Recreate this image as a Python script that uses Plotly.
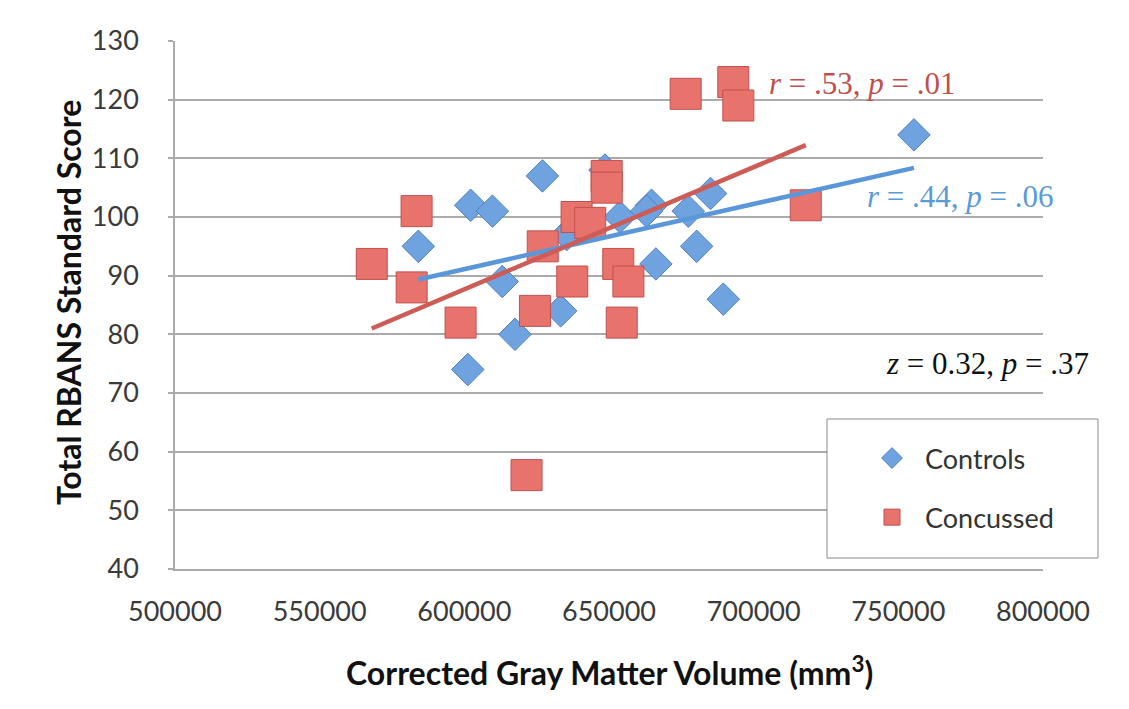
import numpy as np
import plotly.graph_objects as go

# ---- data ----
controls_x = [627000, 648600, 602200, 609700, 584100, 613100, 617500, 601200, 633300,
              653800, 664700, 663000, 677400, 685100, 680300, 666200, 689500, 755400, 635400]
controls_y = [107, 108, 102, 101, 95, 89, 80, 74, 84,
              100, 102, 101, 101, 104, 95, 92, 86, 114, 97]

concussed_x = [676500, 692950, 694700, 649200, 649200, 638800, 643500, 627100, 568000, 583500,
               581800, 598700, 624400, 637300, 653200, 656700, 654400, 621500, 718000]
concussed_y = [121, 123, 119, 107, 105, 100, 99, 95, 92, 101,
               88, 82, 84, 89, 92, 89, 82, 56, 102]

x_ticks = [500000, 550000, 600000, 650000, 700000, 750000, 800000]
y_ticks = [40, 50, 60, 70, 80, 90, 100, 110, 120, 130]

label_concussed = "<i>r</i> = .53, <i>p</i> = .01"
label_controls = "<i>r</i> = .44, <i>p</i> = .06"
label_z = "<i>z</i> = 0.32, <i>p</i> = .37"

# ---- styling ----
RED_FILL = "#E8736D"
RED_LINE = "#C0504D"
RED_TREND = "#CD5B56"
BLUE_FILL = "#6FA3DF"
BLUE_LINE = "#4F81BD"
BLUE_TREND = "#5A97DA"
GRID = "#ABABAB"
SANS = "Lato"
SERIF = "Liberation Serif"


def trend(xs, ys):
    xs = np.asarray(xs, float)
    ys = np.asarray(ys, float)
    m, b = np.polyfit(xs, ys, 1)
    xe = np.array([xs.min(), xs.max()])
    return xe, m * xe + b


fig = go.Figure()

fig.add_trace(go.Scatter(
    x=controls_x, y=controls_y, mode="markers", name="Controls",
    legendgroup="a",
    marker=dict(symbol="diamond", size=25, color=BLUE_FILL,
                line=dict(color=BLUE_LINE, width=1)),
))
fig.add_trace(go.Scatter(
    x=concussed_x, y=concussed_y, mode="markers", name="Concussed",
    legendgroup="b",
    marker=dict(symbol="square", size=31, color=RED_FILL,
                line=dict(color=RED_LINE, width=1)),
))

bx, by = trend(controls_x, controls_y)
fig.add_trace(go.Scatter(x=bx, y=by, mode="lines", showlegend=False,
                         line=dict(color=BLUE_TREND, width=4.5)))
rx, ry = trend(concussed_x, concussed_y)
fig.add_trace(go.Scatter(x=rx, y=ry, mode="lines", showlegend=False,
                         line=dict(color=RED_TREND, width=4.5)))

# page offset of the figure (body margin)
OFF = 8
W, H = 1129 - OFF, 709 - OFF
L, T = 175 - OFF, 41 - OFF
R, B = 86, 140
pw, ph = W - L - R, H - T - B


def px_x(p):
    return (p - OFF - L) / pw


def px_y(p):
    return (H - B - (p - OFF)) / ph


fig.update_layout(
    width=W, height=H,
    margin=dict(l=L, r=R, t=T, b=B, pad=0),
    paper_bgcolor="white", plot_bgcolor="white",
    showlegend=True,
    legend=dict(x=px_x(859), y=px_y(434), xanchor="left", yanchor="top",
                bgcolor="rgba(0,0,0,0)", borderwidth=0,
                font=dict(family=SANS, size=27, color="#333333"),
                tracegroupgap=21, itemwidth=56),
    xaxis=dict(range=[500000, 800000], tickvals=x_ticks,
               ticktext=[str(v) for v in x_ticks],
               showgrid=False, zeroline=False,
               showline=True, linecolor=GRID, linewidth=1.5,
               ticks="", ticklabelstandoff=18,
               tickfont=dict(family=SANS, size=27, color="#3A3A3A")),
    yaxis=dict(range=[40, 130], tickvals=y_ticks,
               showgrid=True, gridcolor=GRID, gridwidth=1.5, zeroline=False,
               showline=True, linecolor=GRID, linewidth=1.5,
               ticks="outside", ticklen=5, tickcolor=GRID, tickwidth=1.5,
               ticklabelstandoff=24,
               tickfont=dict(family=SANS, size=27, color="#3A3A3A")),
    shapes=[dict(type="rect", xref="paper", yref="paper",
                 x0=px_x(827), x1=px_x(1098), y0=px_y(558), y1=px_y(419),
                 fillcolor="white", line=dict(color="#8A8A8A", width=1),
                 layer="above")],
    annotations=[
        dict(text="<b>Corrected Gray Matter Volume (mm<sup>3</sup>)</b>",
             xref="paper", yref="paper", x=px_x(609), y=px_y(671),
             xanchor="center", yanchor="middle", showarrow=False,
             font=dict(family=SANS, size=32, color="#111111")),
        dict(text="<b>Total RBANS Standard Score</b>", textangle=-90,
             xref="paper", yref="paper", x=px_x(68), y=px_y(303),
             xanchor="center", yanchor="middle", showarrow=False,
             font=dict(family=SANS, size=32, color="#111111")),
        dict(text=label_concussed, xref="paper", yref="paper",
             x=px_x(767), y=px_y(83), xanchor="left", yanchor="middle",
             showarrow=False, font=dict(family=SERIF, size=31, color=RED_LINE)),
        dict(text=label_controls, xref="paper", yref="paper",
             x=px_x(865), y=px_y(197), xanchor="left", yanchor="middle",
             showarrow=False, font=dict(family=SERIF, size=31, color="#5B9BD5")),
        dict(text=label_z, xref="paper", yref="paper",
             x=px_x(1091), y=px_y(363), xanchor="right", yanchor="middle",
             showarrow=False, font=dict(family=SERIF, size=31, color="#111111")),
    ],
)

fig.write_html("out.html")
